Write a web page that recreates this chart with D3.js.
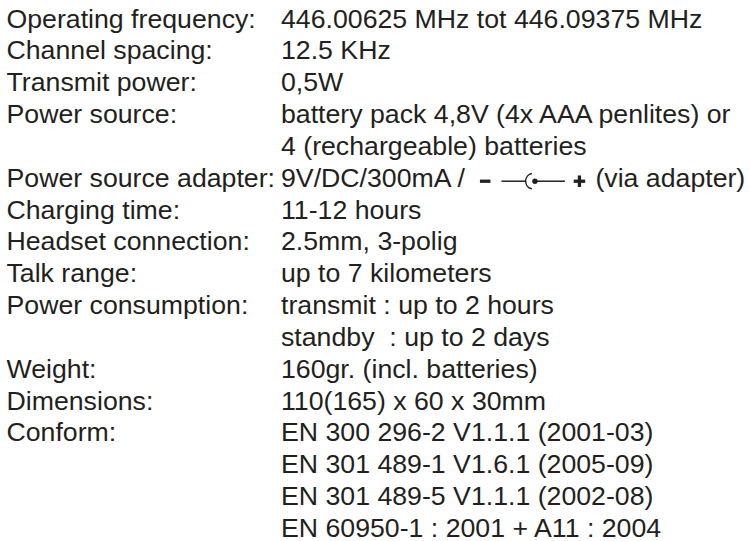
<!DOCTYPE html>
<html>
<head>
<meta charset="utf-8">
<script src="https://cdn.jsdelivr.net/npm/d3@7"></script>
<style>
  html, body { margin: 0; padding: 0; background: #ffffff; }
  svg { display: block; }
</style>
</head>
<body>
<svg id="chart" width="750" height="541"></svg>
<script>
// ---- data ----
const labels = [
  "Operating frequency:",
  "Channel spacing:",
  "Transmit power:",
  "Power source:",
  "Power source adapter:",
  "Charging time:",
  "Headset connection:",
  "Talk range:",
  "Power consumption:",
  "Weight:",
  "Dimensions:",
  "Conform:"
];
const values = [
  ["446.00625 MHz tot 446.09375 MHz"],
  ["12.5 KHz"],
  ["0,5W"],
  ["battery pack 4,8V (4x AAA penlites) or", "4 (rechargeable) batteries"],
  ["9V/DC/300mA /"],
  ["11-12 hours"],
  ["2.5mm, 3-polig"],
  ["up to 7 kilometers"],
  ["transmit : up to 2 hours", "standby  : up to 2 days"],
  ["160gr. (incl. batteries)"],
  ["110(165) x 60 x 30mm"],
  ["EN 300 296-2 V1.1.1 (2001-03)", "EN 301 489-1 V1.6.1 (2005-09)", "EN 301 489-5 V1.1.1 (2002-08)", "EN 60950-1 : 2001 + A11 : 2004"]
];
const adapterSuffix = "(via adapter)";

// ---- layout ----
const svg = d3.select("#chart");
const color = "#231f20";
const fontSize = 26.7;
const labelX = 6.5, valueX = 281;

// flatten into lines
const rows = [];
labels.forEach((lab, i) => {
  values[i].forEach((v, j) => rows.push({ label: j === 0 ? lab : "", value: v, key: i }));
});
const y = d3.scaleLinear().domain([0, rows.length - 1]).range([27.5, 537]);

const g = svg.append("g")
  .attr("font-family", "'Liberation Sans', Arial, Helvetica, sans-serif")
  .attr("font-size", fontSize)
  .attr("fill", color);

g.selectAll("text.label").data(rows).join("text")
  .attr("class", "label")
  .attr("x", labelX).attr("y", (d, i) => y(i))
  .text(d => d.label);

const vt = g.selectAll("text.value").data(rows).join("text")
  .attr("class", "value")
  .attr("x", valueX).attr("y", (d, i) => y(i))
  .attr("xml:space", "preserve")
  .style("white-space", "pre")
  .text(d => d.value);

// DC polarity symbol after adapter value
const adIdx = rows.findIndex(r => r.key === 4);
const adNode = vt.filter((d, i) => i === adIdx).node();
const x0 = valueX + adNode.getComputedTextLength();
const cy = y(adIdx) - 5.5;
const sym = svg.append("g").attr("fill", color).attr("stroke", color);
// minus
sym.append("rect").attr("x", x0 + 15).attr("y", cy - 1.65).attr("width", 10.5).attr("height", 3.3).attr("stroke", "none");
// left lead
const r = 7.8, acx = x0 + 68.5;
sym.append("line").attr("x1", x0 + 36.5).attr("x2", acx - r).attr("y1", cy).attr("y2", cy).attr("stroke-width", 1.5);
// C arc opening to the right
sym.append("path")
  .attr("d", d3.arc().innerRadius(r - 0.75).outerRadius(r + 0.75)
    .startAngle(Math.PI * 1.06).endAngle(Math.PI * 1.94)())
  .attr("transform", `translate(${acx},${cy})`).attr("stroke", "none");
// dot
sym.append("circle").attr("cx", x0 + 70).attr("cy", cy).attr("r", 2.7).attr("stroke", "none");
// right lead
sym.append("line").attr("x1", x0 + 70).attr("x2", x0 + 100).attr("y1", cy).attr("y2", cy).attr("stroke-width", 1.5);
// plus
const px = x0 + 114.5, arm = 11.5, th = 3.3;
sym.append("rect").attr("x", px - arm / 2).attr("y", cy - th / 2).attr("width", arm).attr("height", th).attr("stroke", "none");
sym.append("rect").attr("x", px - th / 2).attr("y", cy - arm / 2).attr("width", th).attr("height", arm).attr("stroke", "none");

g.append("text").attr("x", x0 + 130.5).attr("y", y(adIdx)).text(adapterSuffix);
</script>
</body>
</html>
